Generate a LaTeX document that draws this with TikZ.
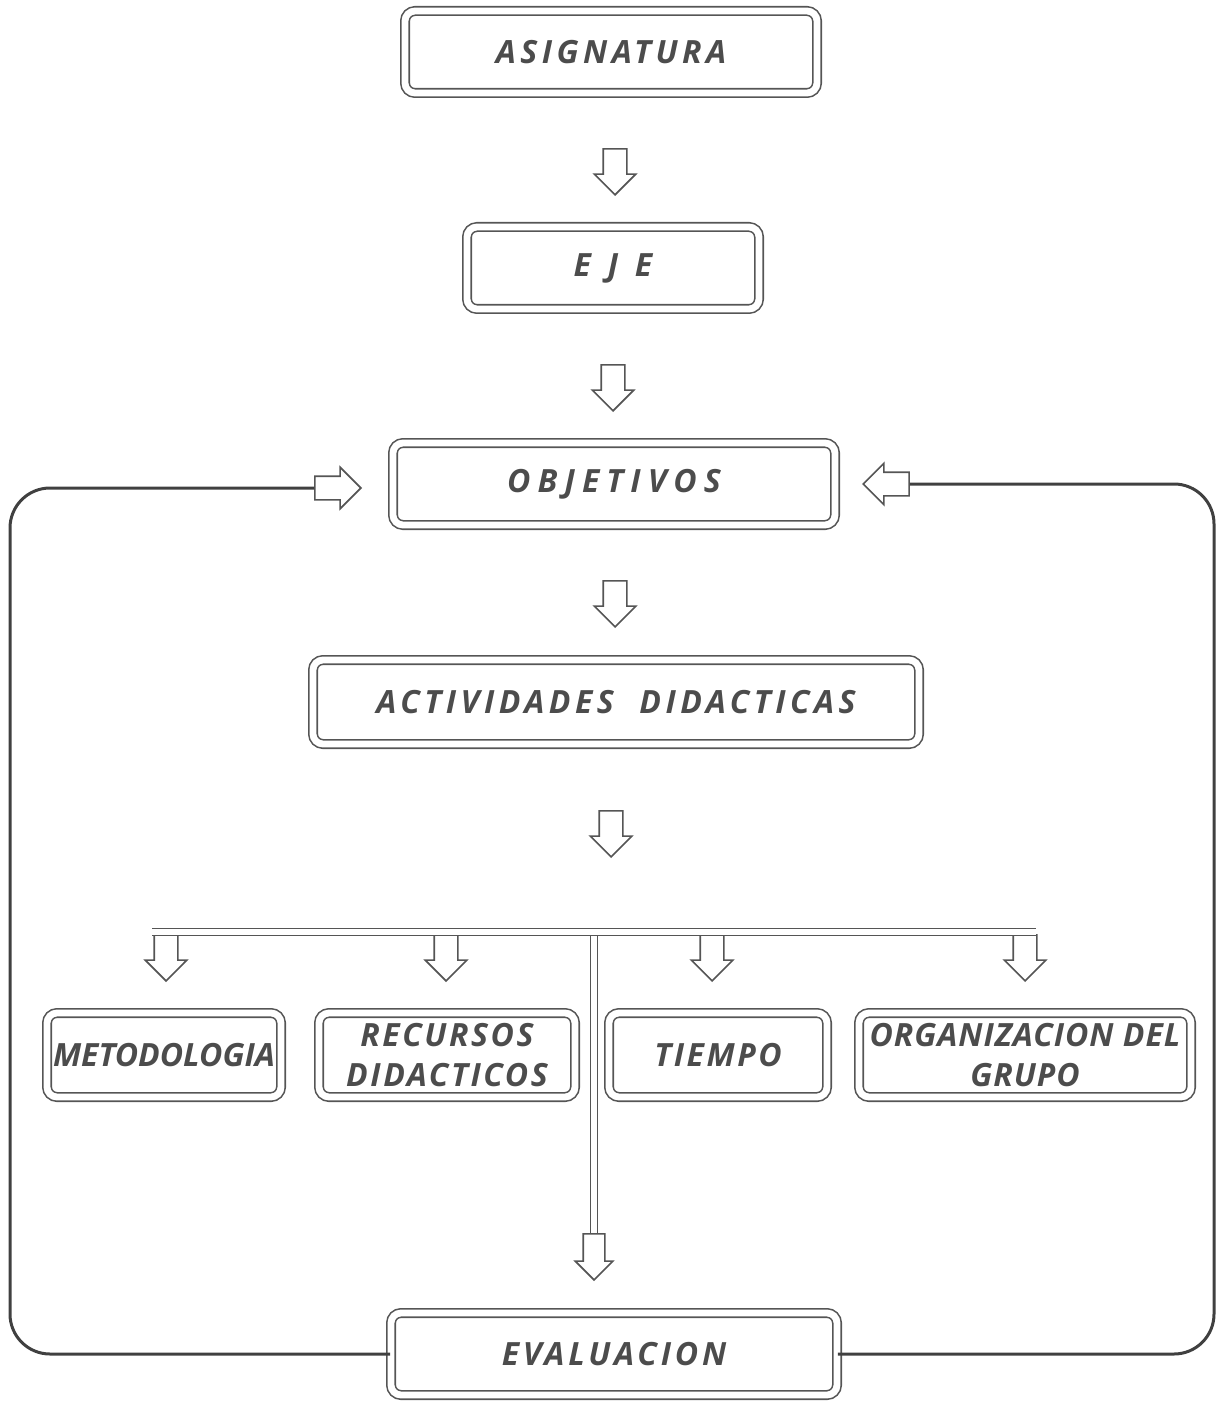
\documentclass[tikz,border=0pt]{standalone}
\usepackage{fontspec}
\setmainfont{Open Sans}
\usetikzlibrary{
    shapes.arrows,
    calc,
    positioning
}
\definecolor{inkgray}{HTML}{555555}
\definecolor{textgray}{HTML}{4C4C4C}
\definecolor{loopgray}{HTML}{404040}

\tikzset{
    dbox/.style={draw=inkgray, line width=0.8pt, double, double distance=3.4pt,
        rounded corners=5pt, inner sep=0pt, align=center, text=textgray,
        font=\bfseries\itshape\fontsize{16}{20}\selectfont},
    spaced/.style={font=\bfseries\itshape\fontsize{16}{20}\selectfont\addfontfeatures{LetterSpace=#1}},
    downarrow/.style={single arrow, draw=inkgray, line width=0.8pt, fill=white,
        shape border rotate=270, minimum height=23pt, inner sep=5.5pt,
        single arrow head extend=4.5pt, single arrow head indent=0pt, anchor=tip},
    sidearrow/.style={downarrow, shape border rotate=#1},
    twin/.style={draw=inkgray, line width=0.7pt, double, double distance=2.6pt},
    feedback/.style={draw=loopgray, line width=1.5pt, rounded corners=20pt}
}

\begin{document}
\begin{tikzpicture}[x=0.5pt, y=-0.5pt]
    \useasboundingbox (0, 0) rectangle (1216, 1401);

    % main chain
    \node[dbox, spaced=14, minimum width=206pt, minimum height=41pt] (asig) at (611, 52) {ASIGNATURA};
    \node[downarrow] (a1) at (615, 196) {};
    \node[dbox, minimum width=146pt, minimum height=41pt] (eje) at (613, 268) {E\ \ J\ \ E};
    \node[downarrow] (a2) at (613, 412) {};
    \node[dbox, spaced=22, minimum width=221pt, minimum height=41pt] (obj) at (614, 484) {OBJETIVOS};
    \node[downarrow] (a3) at (615, 628) {};
    \node[dbox, spaced=14, minimum width=303pt, minimum height=42pt] (act) at (616, 702) {ACTIVIDADES\ \ DIDACTICAS};
    \node[downarrow] (a4) at (611, 858) {};

    % branches
    \node[downarrow] (s1) at (166, 982) {};
    \node[downarrow] (s2) at (446, 982) {};
    \node[downarrow] (s3) at (712, 982) {};
    \node[downarrow] (s4) at (1025, 982) {};
    \coordinate (barL) at (152, 932);
    \coordinate (barR) at (1036, 932);
    \coordinate (barM) at (594, 936);
    \draw[twin] (barL) -- (barR);

    \node[dbox, spaced=0, minimum width=117pt, minimum height=42pt] (met) at (164, 1055) {METODOLOGIA};
    \node[dbox, spaced=8, minimum width=128pt, minimum height=42pt] (rec) at (447, 1055) {RECURSOS\\DIDACTICOS};
    \node[dbox, spaced=8, minimum width=109pt, minimum height=42pt] (tie) at (718, 1055) {TIEMPO};
    \node[dbox, spaced=3, minimum width=166pt, minimum height=42pt] (org) at (1025, 1055) {ORGANIZACION DEL\\GRUPO};

    % evaluation
    \node[downarrow, single arrow head extend=4pt, inner sep=5pt] (a5) at (594, 1281) {};
    \draw[twin] (barM) -- (a5.tail);
    \node[dbox, spaced=12, minimum width=223pt, minimum height=41pt] (eva) at (614, 1354) {EVALUACION};

    % feedback loop
    \node[sidearrow=0] (arrL) at (362, 488) {};
    \node[sidearrow=180] (arrR) at (862, 484) {};
    \coordinate (loopL) at (10, 0);
    \coordinate (loopR) at (1214, 0);
    \draw[feedback] (eva.west) -| (arrL.tail -| loopL) -- (arrL.tail);
    \draw[feedback] (eva.east) -| (arrR.tail -| loopR) -- (arrR.tail);
\end{tikzpicture}
\end{document}
